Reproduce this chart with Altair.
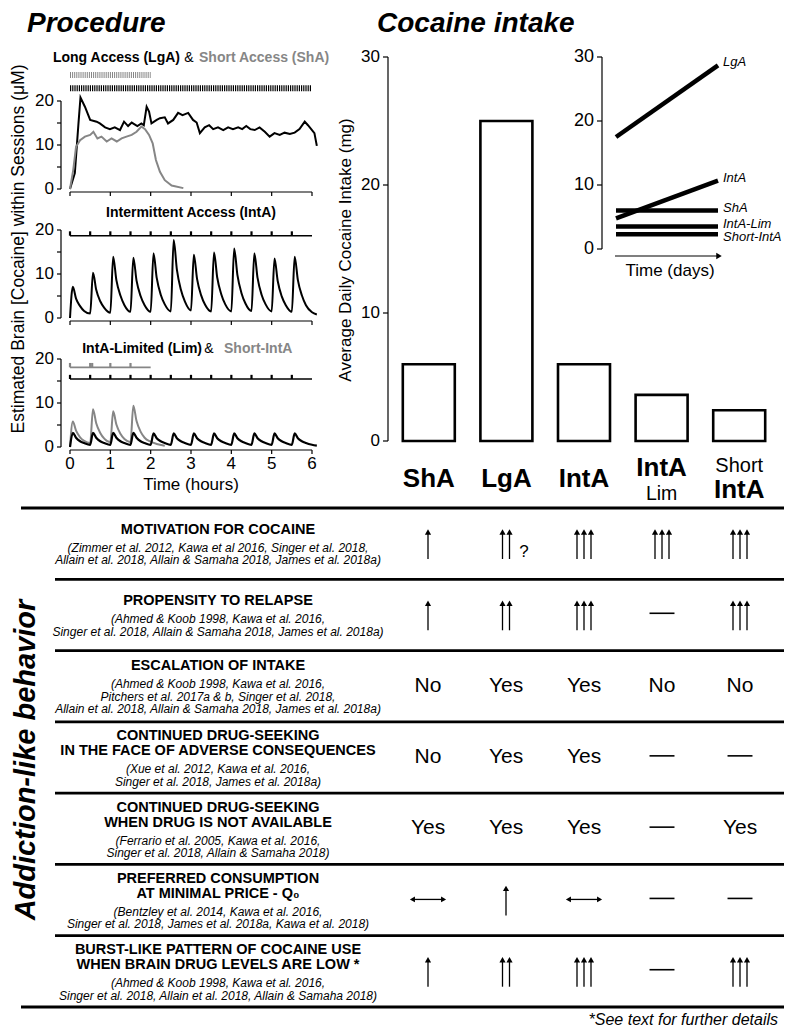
import altair as alt
import pandas as pd

# ============================ DATA ============================
# Procedure panel 1: Long Access (black) and Short Access (gray), brain cocaine (uM) vs time (h)
lga_t = [0.00, 0.12, 0.21, 0.26, 0.37, 0.50, 0.66, 0.74, 0.87, 0.99,
         1.11, 1.24, 1.34, 1.44, 1.53, 1.67, 1.77, 1.83, 1.90, 1.96,
         2.02, 2.15, 2.23, 2.35, 2.43, 2.56, 2.68, 2.79, 2.93, 3.05,
         3.14, 3.22, 3.34, 3.45, 3.55, 3.67, 3.80, 3.92, 4.04, 4.17,
         4.27, 4.37, 4.47, 4.58, 4.70, 4.83, 4.95, 5.07, 5.20, 5.32,
         5.45, 5.57, 5.69, 5.82, 5.90, 5.98, 6.06, 6.12]
lga_c = [0.0, 3.6, 14.9, 20.8, 18.7, 15.7, 15.3, 14.9, 14.0, 13.6,
         14.0, 13.4, 15.3, 14.3, 15.1, 14.3, 14.9, 14.5, 18.7, 17.6,
         14.9, 15.7, 16.1, 16.3, 14.9, 15.7, 17.3, 16.8, 17.3, 15.7,
         15.1, 12.7, 14.0, 14.5, 13.6, 14.0, 13.4, 14.0, 13.6, 14.0,
         13.6, 14.3, 13.6, 13.4, 14.0, 13.0, 11.9, 12.7, 12.3, 12.8,
         12.5, 12.8, 13.6, 15.3, 14.5, 13.6, 12.7, 9.8]
sha_t = [0.00, 0.08, 0.15, 0.25, 0.37, 0.50, 0.58, 0.68, 0.78, 0.91,
         1.03, 1.16, 1.28, 1.40, 1.53, 1.65, 1.77, 1.86, 1.96, 2.05,
         2.13, 2.23, 2.35, 2.52, 2.81]
sha_c = [0.0, 4.3, 9.6, 11.1, 11.9, 12.3, 13.0, 11.5, 11.9, 10.8,
         11.5, 10.8, 11.5, 11.9, 12.3, 13.0, 14.2, 13.6, 12.3, 10.4,
         6.6, 3.9, 2.0, 0.8, 0.2]
sha_session = [0.0, 2.0]
lga_session = [0.0, 6.0]

# Procedure panel 2: Intermittent Access
inta_t = [0.00, 0.07, 0.15, 0.25, 0.35, 0.50, 0.57, 0.65, 0.75, 0.85,
          1.00, 1.07, 1.15, 1.25, 1.35, 1.50, 1.57, 1.65, 1.75, 1.85,
          2.00, 2.07, 2.15, 2.25, 2.35, 2.50, 2.57, 2.65, 2.75, 2.85,
          3.00, 3.07, 3.15, 3.25, 3.35, 3.50, 3.57, 3.65, 3.75, 3.85,
          4.00, 4.07, 4.15, 4.25, 4.35, 4.50, 4.57, 4.65, 4.75, 4.85,
          5.00, 5.07, 5.15, 5.25, 5.35, 5.50, 5.57, 5.65, 5.75, 5.85,
          6.00, 6.12]
inta_c = [0.0, 7.1, 4.4, 2.7, 1.6, 1.0, 10.3, 6.4, 3.8, 2.3,
          1.2, 13.9, 8.6, 5.1, 2.9, 1.4, 13.7, 8.5, 5.0, 2.9,
          1.4, 14.7, 9.1, 5.3, 3.1, 1.5, 17.7, 11.0, 6.4, 3.7,
          1.7, 14.4, 8.9, 5.2, 3.0, 1.5, 14.9, 9.2, 5.4, 3.1,
          1.5, 15.8, 9.8, 5.7, 3.3, 1.6, 14.7, 9.1, 5.3, 3.1,
          1.5, 13.5, 8.4, 4.9, 2.9, 1.4, 13.9, 8.6, 5.1, 2.9,
          1.3, 0.8]
inta_events = [0.0, 0.5, 1.0, 1.5, 2.0, 2.5, 3.0, 3.5, 4.0, 4.5, 5.0, 5.5]
inta_session = [0.0, 6.0]

# Procedure panel 3: IntA-Limited (black) and Short-IntA (gray)
lim_t = [0.00, 0.07, 0.15, 0.25, 0.35, 0.50, 0.57, 0.65, 0.75, 0.85,
         1.00, 1.07, 1.15, 1.25, 1.35, 1.50, 1.57, 1.65, 1.75, 1.85,
         2.00, 2.07, 2.15, 2.25, 2.35, 2.50, 2.57, 2.65, 2.75, 2.85,
         3.00, 3.07, 3.15, 3.25, 3.35, 3.50, 3.57, 3.65, 3.75, 3.85,
         4.00, 4.07, 4.15, 4.25, 4.35, 4.50, 4.57, 4.65, 4.75, 4.85,
         5.00, 5.07, 5.15, 5.25, 5.35, 5.50, 5.57, 5.65, 5.75, 5.85,
         6.00, 6.12]
lim_c = [0.0, 3.2, 2.1, 1.3, 0.9, 0.5, 3.2, 2.1, 1.3, 0.9,
         0.5, 3.2, 2.1, 1.3, 0.9, 0.5, 3.2, 2.1, 1.3, 0.9,
         0.5, 3.1, 2.0, 1.3, 0.9, 0.5, 3.1, 2.0, 1.3, 0.9,
         0.5, 3.1, 2.0, 1.3, 0.9, 0.5, 3.1, 2.0, 1.3, 0.9,
         0.5, 3.1, 2.0, 1.3, 0.9, 0.5, 3.1, 2.0, 1.3, 0.9,
         0.5, 3.1, 2.0, 1.3, 0.9, 0.5, 3.1, 2.0, 1.3, 0.9,
         0.5, 0.3]
sint_t = [0.00, 0.07, 0.15, 0.25, 0.35, 0.50, 0.57, 0.65, 0.75, 0.85,
          1.00, 1.07, 1.15, 1.25, 1.35, 1.50, 1.57, 1.65, 1.75, 1.85,
          2.00, 2.15, 2.35]
sint_c = [0.0, 5.8, 3.7, 2.2, 1.4, 0.9, 8.6, 5.4, 3.2, 1.9,
          1.1, 8.1, 5.1, 3.0, 1.8, 1.1, 9.4, 5.9, 3.5, 2.1,
          1.2, 0.7, 0.3]
lim_events = [0.0, 0.5, 1.0, 1.5, 2.0, 2.5, 3.0, 3.5, 4.0, 4.5, 5.0, 5.5]
short_events = [0.0, 0.5, 0.55, 1.0, 1.5]
lim_session = [0.0, 6.0]
short_session = [0.0, 2.0]

proc_ticks_y = [0, 5, 10, 15, 20]
proc_labels_y = [0, 10, 20]
proc_ticks_x = [0, 1, 2, 3, 4, 5, 6]

# Cocaine intake bars
bar_cats = ["ShA", "LgA", "IntA", "IntA-Lim", "Short-IntA"]
bar_vals = [6.0, 25.0, 6.0, 3.6, 2.4]
bar_lab_top = ["", "", "", "", "Short"]
bar_lab_main = ["ShA", "LgA", "IntA", "IntA", "IntA"]
bar_lab_bottom = ["", "", "", "Lim", ""]
bar_ticks = [0, 10, 20, 30]

# Inset: intake over days
inset_series = ["LgA", "IntA", "ShA", "IntA-Lim", "Short-IntA"]
inset_first = [17.5, 4.8, 6.0, 3.5, 2.3]
inset_last = [28.7, 10.7, 6.0, 3.5, 2.3]
inset_ticks = [0, 10, 20, 30]

# Addiction-like behaviour table
behaviors = [
    ["MOTIVATION FOR COCAINE"],
    ["PROPENSITY TO RELAPSE"],
    ["ESCALATION OF INTAKE"],
    ["CONTINUED DRUG-SEEKING", "IN THE FACE OF ADVERSE CONSEQUENCES"],
    ["CONTINUED DRUG-SEEKING", "WHEN DRUG IS NOT AVAILABLE"],
    ["PREFERRED CONSUMPTION", "AT MINIMAL PRICE - Q\u2080"],
    ["BURST-LIKE PATTERN OF COCAINE USE", "WHEN BRAIN DRUG LEVELS ARE LOW *"],
]
citations = [
    ["(Zimmer et al. 2012, Kawa et al 2016, Singer et al. 2018,",
     "Allain et al. 2018, Allain & Samaha 2018, James et al. 2018a)"],
    ["(Ahmed & Koob 1998, Kawa et al. 2016,",
     "Singer et al. 2018, Allain & Samaha 2018, James et al. 2018a)"],
    ["(Ahmed & Koob 1998, Kawa et al. 2016,",
     "Pitchers et al. 2017a & b, Singer et al. 2018,",
     "Allain et al. 2018, Allain & Samaha 2018, James et al. 2018a)"],
    ["(Xue et al. 2012, Kawa et al. 2016,",
     "Singer et al. 2018, James et al. 2018a)"],
    ["(Ferrario et al. 2005, Kawa et al. 2016,",
     "Singer et al. 2018, Allain & Samaha 2018)"],
    ["(Bentzley et al. 2014, Kawa et al. 2016,",
     "Singer et al. 2018, James et al. 2018a, Kawa et al. 2018)"],
    ["(Ahmed & Koob 1998, Kawa et al. 2016,",
     "Singer et al. 2018, Allain et al. 2018, Allain & Samaha 2018)"],
]
cells = [
    ["\u2191", "\u2191\u2191", "\u2191\u2191\u2191", "\u2191\u2191\u2191", "\u2191\u2191\u2191"],
    ["\u2191", "\u2191\u2191", "\u2191\u2191\u2191", "\u2014", "\u2191\u2191\u2191"],
    ["No", "Yes", "Yes", "No", "No"],
    ["No", "Yes", "Yes", "\u2014", "\u2014"],
    ["Yes", "Yes", "Yes", "\u2014", "Yes"],
    ["\u2194", "\u2191", "\u2194", "\u2014", "\u2014"],
    ["\u2191", "\u2191\u2191", "\u2191\u2191\u2191", "\u2014", "\u2191\u2191\u2191"],
]
cell_notes = [(0, 1, "?")]

# ============================ LAYOUT ============================
M = 8
W, H = 776, 1019
FONT = "Liberation Sans"
GRAY = "#868686"


def px(v):
    return v - M


def qs(domain, a, b):
    return alt.Scale(domain=domain, range=[px(a), px(b)], nice=False, zero=False)


PX = qs([0, 6], 70, 312)
P1Y = qs([0, 20], 189, 101)
P2Y = qs([0, 20], 318, 230)
P3Y = qs([0, 20], 447, 359)
BXS = alt.Scale(domain=bar_cats, range=[px(390), px(778)], paddingInner=0.33, paddingOuter=0.165)
BYS = qs([0, 30], 441, 57)
IXS = qs([0, 1], 616, 718)
IYS = qs([0, 30], 249, 57)
TXS = qs([0, 4], 428, 740)
TYS = qs([0, 7], 508, 1007)
ROW = (1007 - 508) / 7.0
COL = (740 - 428) / 4.0

layers = []


def label(txt, x, y, size, weight="normal", style="normal", color="black",
          align="center", angle=0, baseline="middle"):
    layers.append(
        alt.Chart(pd.DataFrame({"s": [txt]}))
        .mark_text(font=FONT, fontSize=size, fontWeight=weight, fontStyle=style,
                   color=color, align=align, baseline=baseline, angle=angle)
        .encode(text="s:N", x=alt.value(px(x)), y=alt.value(px(y)))
    )


def curve(t, c, ys, color, width=2.0, interp="linear"):
    layers.append(
        alt.Chart(pd.DataFrame({"t": t, "c": c}))
        .mark_line(color=color, strokeWidth=width, interpolate=interp)
        .encode(x=alt.X("t:Q", scale=PX, axis=None), y=alt.Y("c:Q", scale=ys, axis=None))
    )


def proc_axes(ys, xaxis_y, xlabels):
    layers.append(
        alt.Chart(pd.DataFrame({"a": [0], "b": [20]}))
        .mark_rule(color="black", strokeWidth=1.2)
        .encode(x=alt.value(px(61)), y=alt.Y("a:Q", scale=ys, axis=None), y2="b:Q"))
    layers.append(
        alt.Chart(pd.DataFrame({"v": proc_ticks_y}))
        .mark_rule(color="black", strokeWidth=1.2)
        .encode(x=alt.value(px(57)), x2=alt.value(px(61)), y=alt.Y("v:Q", scale=ys, axis=None)))
    layers.append(
        alt.Chart(pd.DataFrame({"v": proc_labels_y}))
        .mark_text(font=FONT, fontSize=17, align="right", baseline="middle")
        .encode(x=alt.value(px(54)), y=alt.Y("v:Q", scale=ys, axis=None), text="v:Q"))
    layers.append(
        alt.Chart(pd.DataFrame({"a": [0], "b": [6]}))
        .mark_rule(color="black", strokeWidth=1.2)
        .encode(x=alt.X("a:Q", scale=PX, axis=None), x2="b:Q", y=alt.value(px(xaxis_y))))
    layers.append(
        alt.Chart(pd.DataFrame({"v": proc_ticks_x}))
        .mark_rule(color="black", strokeWidth=1.2)
        .encode(x=alt.X("v:Q", scale=PX, axis=None), y=alt.value(px(xaxis_y)),
                y2=alt.value(px(xaxis_y + 4))))
    if xlabels:
        layers.append(
            alt.Chart(pd.DataFrame({"v": proc_ticks_x}))
            .mark_text(font=FONT, fontSize=17, baseline="middle")
            .encode(x=alt.X("v:Q", scale=PX, axis=None), y=alt.value(px(464)), text="v:Q"))


def session_line(session, ys, level, color, width, dash=None):
    kw = dict(color=color, strokeWidth=width)
    if dash:
        kw["strokeDash"] = dash
    layers.append(
        alt.Chart(pd.DataFrame({"a": [session[0]], "b": [session[1]], "lev": [level]}))
        .mark_rule(**kw)
        .encode(x=alt.X("a:Q", scale=PX, axis=None), x2="b:Q",
                y=alt.Y("lev:Q", scale=ys, axis=None)))


def event_ticks(events, ys, lo, hi, color):
    d = pd.DataFrame({"t": events})
    d["lo"] = lo
    d["hi"] = hi
    layers.append(
        alt.Chart(d).mark_rule(color=color, strokeWidth=2.2)
        .encode(x=alt.X("t:Q", scale=PX, axis=None),
                y=alt.Y("lo:Q", scale=ys, axis=None), y2="hi:Q"))


# ---------------- headings ----------------
label("Procedure", 27, 24, 28, "bold", "italic", align="left")
label("Cocaine intake", 377, 24, 28, "bold", "italic", align="left")

# ---------------- procedure panels ----------------
label("Long Access (LgA)", 180, 58, 14, "bold", align="right")
label("&", 189, 58, 14)
label("Short Access (ShA)", 199, 58, 14, "bold", color=GRAY, align="left")
label("Intermittent Access (IntA)", 191, 213, 14, "bold")
label("IntA-Limited (Lim)", 202, 349, 14, "bold", align="right")
label("&", 209, 349, 14)
label("Short-IntA", 224, 349, 14, "bold", color=GRAY, align="left")
label("Estimated Brain [Cocaine] within Sessions (\u03bcM)", 19, 249, 17.5, angle=270)
label("Time (hours)", 191, 485, 17)

# panel 1
session_line(sha_session, P1Y, 25.9, GRAY, 6, dash=[1, 1.1])
session_line(lga_session, P1Y, 22.9, "black", 6, dash=[1.2, 1.0])
curve(lga_t, lga_c, P1Y, "black", 2.0)
curve(sha_t, sha_c, P1Y, GRAY, 2.0)
proc_axes(P1Y, 192, False)

# panel 2
session_line(inta_session, P2Y, 18.7, "black", 1.6)
event_ticks(inta_events, P2Y, 18.7, 19.7, "black")
curve(inta_t, inta_c, P2Y, "black", 2.0, "monotone")
proc_axes(P2Y, 321, False)

# panel 3
session_line(short_session, P3Y, 18.1, GRAY, 1.6)
event_ticks(short_events, P3Y, 18.1, 19.1, GRAY)
session_line(lim_session, P3Y, 15.45, "black", 1.6)
event_ticks(lim_events, P3Y, 15.45, 16.4, "black")
curve(sint_t, sint_c, P3Y, GRAY, 2.0, "monotone")
curve(lim_t, lim_c, P3Y, "black", 2.2, "monotone")
proc_axes(P3Y, 450, True)

# ---------------- bar chart ----------------
bars = pd.DataFrame({"cat": bar_cats, "val": bar_vals})
bars["base"] = 0
layers.append(
    alt.Chart(bars).mark_bar(fill="white", stroke="black", strokeWidth=2.6)
    .encode(x=alt.X("cat:N", scale=BXS, axis=None, sort=bar_cats),
            y=alt.Y("val:Q", scale=BYS, axis=None), y2="base:Q"))
layers.append(
    alt.Chart(pd.DataFrame({"a": [0], "b": [30]})).mark_rule(color="black", strokeWidth=1.2)
    .encode(x=alt.value(px(388)), y=alt.Y("a:Q", scale=BYS, axis=None), y2="b:Q"))
layers.append(
    alt.Chart(pd.DataFrame({"v": bar_ticks})).mark_rule(color="black", strokeWidth=1.2)
    .encode(x=alt.value(px(383)), x2=alt.value(px(388)), y=alt.Y("v:Q", scale=BYS, axis=None)))
layers.append(
    alt.Chart(pd.DataFrame({"v": bar_ticks}))
    .mark_text(font=FONT, fontSize=17, align="right", baseline="middle")
    .encode(x=alt.value(px(380)), y=alt.Y("v:Q", scale=BYS, axis=None), text="v:Q"))
label("Average Daily Cocaine Intake (mg)", 346, 250, 17, angle=270)

for cat, top, main, bottom in zip(bar_cats, bar_lab_top, bar_lab_main, bar_lab_bottom):
    main_y = 490 if top else (468 if bottom else 479)
    parts = [(main, main_y, 26, "bold")]
    if top:
        parts.append((top, 466, 20, "normal"))
    if bottom:
        parts.append((bottom, 494, 19.5, "normal"))
    for txt, yy, size, weight in parts:
        layers.append(
            alt.Chart(pd.DataFrame({"cat": [cat], "s": [txt]}))
            .mark_text(font=FONT, fontSize=size, fontWeight=weight, baseline="middle")
            .encode(x=alt.X("cat:N", scale=BXS, axis=None, sort=bar_cats),
                    y=alt.value(px(yy)), text="s:N"))

# ---------------- inset ----------------
rows = []
for s, a, b in zip(inset_series, inset_first, inset_last):
    rows.append({"s": s, "d": 0.0, "v": a})
    rows.append({"s": s, "d": 1.0, "v": b})
layers.append(
    alt.Chart(pd.DataFrame(rows)).mark_line(color="black", strokeWidth=4.5, strokeCap="butt")
    .encode(x=alt.X("d:Q", scale=IXS, axis=None), y=alt.Y("v:Q", scale=IYS, axis=None),
            detail="s:N"))
ipx = (249 - 57) / 30.0
lab_rows = []
for s, b in zip(inset_series, inset_last):
    shift = 2.7 if s == "Short-IntA" else -3.0
    lab_rows.append({"s": s, "v": b - shift / ipx})
layers.append(
    alt.Chart(pd.DataFrame(lab_rows))
    .mark_text(font=FONT, fontSize=13, fontStyle="italic", align="left", baseline="middle")
    .encode(x=alt.value(px(723)), y=alt.Y("v:Q", scale=IYS, axis=None), text="s:N"))
layers.append(
    alt.Chart(pd.DataFrame({"a": [0], "b": [30]})).mark_rule(color="black", strokeWidth=1.2)
    .encode(x=alt.value(px(602)), y=alt.Y("a:Q", scale=IYS, axis=None), y2="b:Q"))
layers.append(
    alt.Chart(pd.DataFrame({"v": inset_ticks})).mark_rule(color="black", strokeWidth=1.2)
    .encode(x=alt.value(px(597)), x2=alt.value(px(602)), y=alt.Y("v:Q", scale=IYS, axis=None)))
layers.append(
    alt.Chart(pd.DataFrame({"v": inset_ticks}))
    .mark_text(font=FONT, fontSize=18, align="right", baseline="middle")
    .encode(x=alt.value(px(594)), y=alt.Y("v:Q", scale=IYS, axis=None), text="v:Q"))
layers.append(
    alt.Chart(pd.DataFrame({"a": [0]})).mark_rule(color="black", strokeWidth=1.2)
    .encode(x=alt.value(px(615)), x2=alt.value(px(718)), y=alt.value(px(256))))
layers.append(
    alt.Chart(pd.DataFrame({"a": [0]})).mark_point(shape="triangle-right", filled=True,
                                                   color="black", size=40, opacity=1)
    .encode(x=alt.value(px(719)), y=alt.value(px(256))))
label("Time (days)", 670, 271, 17)

# ---------------- table ----------------
label("Addiction-like behavior", 26, 760, 29, "bold", "italic", angle=270)

outer = pd.DataFrame({"k": [0, 7]})
inner = pd.DataFrame({"k": [1, 2, 3, 4, 5, 6]})
layers.append(
    alt.Chart(outer).mark_rule(color="black", strokeWidth=2.8)
    .encode(x=alt.value(px(21)), x2=alt.value(W), y=alt.Y("k:Q", scale=TYS, axis=None)))
layers.append(
    alt.Chart(inner).mark_rule(color="black", strokeWidth=2.8)
    .encode(x=alt.value(px(55)), x2=alt.value(W), y=alt.Y("k:Q", scale=TYS, axis=None)))

t_rows, c_rows = [], []
for r, (tl, cl) in enumerate(zip(behaviors, citations)):
    nt, nc = len(tl), len(cl)
    block = 15 * (nt - 1) + 18 + 12.5 * (nc - 1)
    first = ROW / 2 - block / 2 + 1.5
    for i, s in enumerate(tl):
        t_rows.append({"y": r + (first + 15 * i) / ROW, "s": s})
    for j, s in enumerate(cl):
        c_rows.append({"y": r + (first + 15 * (nt - 1) + 18 + 12.5 * j) / ROW, "s": s})
layers.append(
    alt.Chart(pd.DataFrame(t_rows))
    .mark_text(font=FONT, fontSize=14.5, fontWeight="bold", baseline="middle")
    .encode(x=alt.value(px(218)), y=alt.Y("y:Q", scale=TYS, axis=None), text="s:N"))
layers.append(
    alt.Chart(pd.DataFrame(c_rows))
    .mark_text(font=FONT, fontSize=12, fontStyle="italic", baseline="middle")
    .encode(x=alt.value(px(218)), y=alt.Y("y:Q", scale=TYS, axis=None), text="s:N"))

word_rows, up_rows, head_rows, dash_rows, lr_rows = [], [], [], [], []
gap = 7.0 / COL
for r, row in enumerate(cells):
    for c, s in enumerate(row):
        if set(s) == {"\u2191"}:
            k = len(s)
            for i in range(k):
                xx = c + (i - (k - 1) / 2.0) * gap
                up_rows.append({"x": xx, "y0": r + 51 / ROW, "y1": r + 25 / ROW})
                head_rows.append({"x": xx, "y": r + 24 / ROW})
        elif s == "\u2194":
            lr_rows.append({"x0": c - 0.2, "x1": c + 0.2, "y": r + 35 / ROW})
        elif s == "\u2014":
            dash_rows.append({"x0": c - 0.16, "x1": c + 0.16, "y": r + 34 / ROW})
        else:
            word_rows.append({"x": c, "y": r + 35 / ROW, "s": s})

layers.append(
    alt.Chart(pd.DataFrame(word_rows))
    .mark_text(font=FONT, fontSize=21, baseline="middle")
    .encode(x=alt.X("x:Q", scale=TXS, axis=None), y=alt.Y("y:Q", scale=TYS, axis=None), text="s:N"))
layers.append(
    alt.Chart(pd.DataFrame(up_rows)).mark_rule(color="black", strokeWidth=1.3)
    .encode(x=alt.X("x:Q", scale=TXS, axis=None), y=alt.Y("y0:Q", scale=TYS, axis=None), y2="y1:Q"))
layers.append(
    alt.Chart(pd.DataFrame(head_rows))
    .mark_point(shape="triangle-up", filled=True, color="black", size=38, opacity=1)
    .encode(x=alt.X("x:Q", scale=TXS, axis=None), y=alt.Y("y:Q", scale=TYS, axis=None)))
layers.append(
    alt.Chart(pd.DataFrame(dash_rows)).mark_rule(color="black", strokeWidth=1.6)
    .encode(x=alt.X("x0:Q", scale=TXS, axis=None), x2="x1:Q", y=alt.Y("y:Q", scale=TYS, axis=None)))
lr = pd.DataFrame(lr_rows)
layers.append(
    alt.Chart(lr).mark_rule(color="black", strokeWidth=1.3)
    .encode(x=alt.X("x0:Q", scale=TXS, axis=None), x2="x1:Q", y=alt.Y("y:Q", scale=TYS, axis=None)))
layers.append(
    alt.Chart(lr).mark_point(shape="triangle-left", filled=True, color="black", size=34, opacity=1)
    .encode(x=alt.X("x0:Q", scale=TXS, axis=None), y=alt.Y("y:Q", scale=TYS, axis=None)))
layers.append(
    alt.Chart(lr).mark_point(shape="triangle-right", filled=True, color="black", size=34, opacity=1)
    .encode(x=alt.X("x1:Q", scale=TXS, axis=None), y=alt.Y("y:Q", scale=TYS, axis=None)))
note_rows = [{"x": c + 0.23, "y": r + 44 / ROW, "s": s} for r, c, s in cell_notes]
layers.append(
    alt.Chart(pd.DataFrame(note_rows))
    .mark_text(font=FONT, fontSize=17, baseline="middle")
    .encode(x=alt.X("x:Q", scale=TXS, axis=None), y=alt.Y("y:Q", scale=TYS, axis=None), text="s:N"))

label("*See text for further details", 778, 1020, 16, style="italic", align="right")

chart = (
    alt.layer(*layers)
    .resolve_scale(x="independent", y="independent")
    .properties(width=W, height=H, autosize=alt.AutoSizeParams(type="none"), padding=0)
    .configure_view(stroke=None)
)
chart.save("out.html", embed_options={"renderer": "svg", "actions": False})
